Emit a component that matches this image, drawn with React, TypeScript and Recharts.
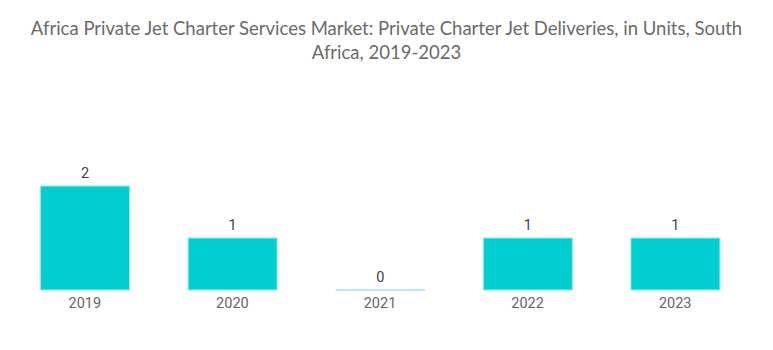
import { Bar, BarChart, LabelList, XAxis, YAxis } from "recharts";

const YEARS = ["2019", "2020", "2021", "2022", "2023"];
const DELIVERIES = [2, 1, 0, 1, 1];

const data = YEARS.map((year, i) => ({ year, units: DELIVERIES[i] }));

document.body.style.margin = "0";

// recharts skips zero-height rects, so draw a path to keep the 0 bar visible as a line
function BarShape(props: any) {
  const { x, y, width, height } = props;
  const d = `M${x},${y}h${width}v${height}h${-width}Z`;
  return <path d={d} fill="#00ced1" stroke="#9ae8e9" strokeWidth={1} />;
}

export default function App() {
  return (
    <div style={{ position: "relative", width: 773, height: 350, background: "#fff" }}>
      <div
        style={{
          position: "absolute",
          top: 16,
          left: 0,
          width: 773,
          textAlign: "center",
          fontFamily: "Lato, sans-serif",
          fontSize: 18.5,
          lineHeight: "24px",
          color: "#6b6b6b",
        }}
      >
        Africa Private Jet Charter Services Market: Private Charter Jet Deliveries, in Units, South
        <br />
        Africa, 2019-2023
      </div>
      <div style={{ position: "absolute", top: 0, left: 0 }}>
        <BarChart
          width={773}
          height={350}
          data={data}
          margin={{ top: 186, right: 24, bottom: 30, left: 11 }}
          barCategoryGap="20%"
        >
          <XAxis
            dataKey="year"
            axisLine={false}
            tickLine={false}
            tick={{ fontSize: 14.5, fill: "#666", fontFamily: "Roboto, sans-serif" }}
          />
          <YAxis hide domain={[0, 2]} />
          <Bar dataKey="units" shape={BarShape} isAnimationActive={false}>
            <LabelList
              dataKey="units"
              position="top"
              offset={8}
              style={{ fontSize: 14.5, fill: "#444", fontFamily: "Roboto, sans-serif" }}
            />
          </Bar>
        </BarChart>
      </div>
    </div>
  );
}
